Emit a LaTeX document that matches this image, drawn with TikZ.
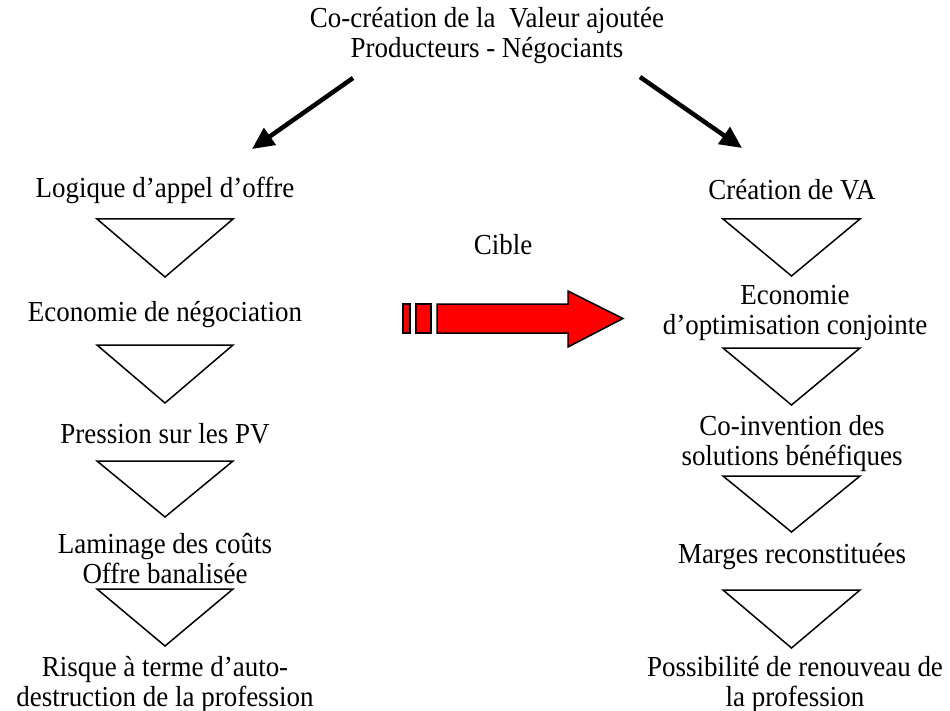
\documentclass[tikz,border=0pt]{standalone}
\usepackage{fontspec}
\setmainfont[FakeStretch=0.93]{Liberation Serif}
\usetikzlibrary{arrows.meta}
\begin{document}
\begin{tikzpicture}[x=1pt,y=-1pt,
  lbl/.style={align=center,inner sep=0pt,font=\fontsize{29}{30}\selectfont},
  tri/.style={draw=black,line width=1.5pt,line join=miter},
  bigarrow/.style={line width=4.5pt,-{Triangle[length=22pt,width=20pt]}},
  redpart/.style={fill=red,draw=black,line width=1.5pt,line join=miter}]
\useasboundingbox (0,0) rectangle (950,711);
% title
\node[lbl] (title) at (487,36) {Co-création de la\ \ Valeur ajoutée\\Producteurs - Négociants};
% left column
\node[lbl] (logique) at (165,190) {Logique d’appel d’offre};
\node[lbl] (econ) at (165,315) {Economie de négociation};
\node[lbl] (pression) at (165,434) {Pression sur les PV};
\node[lbl] (laminage) at (165,559) {Laminage des coûts\\Offre banalisée};
\node[lbl] (risque) at (165,684) {Risque à terme d’auto-\\destruction de la profession};
% right column
\node[lbl] (creation) at (792,190) {Création de VA};
\node[lbl] (optim) at (795,313) {Economie\\d’optimisation conjointe};
\node[lbl] (coinv) at (792,444) {Co-invention des\\solutions bénéfiques};
\node[lbl] (marges) at (792,557) {Marges reconstituées};
\node[lbl] (possib) at (795,684) {Possibilité de renouveau de\\la profession};
% middle
\node[lbl] (cible) at (503,245) {Cible};
% black arrows
\coordinate (als) at (353,78);
\coordinate (ale) at (252,149);
\coordinate (ars) at (640,77);
\coordinate (are) at (742,148);
\draw[bigarrow] (als) -- (ale);
\draw[bigarrow] (ars) -- (are);
% left triangles
\draw[tri] (97,219) -- (233,219) -- (165,277) -- cycle;
\draw[tri] (97,345) -- (233,345) -- (165,403) -- cycle;
\draw[tri] (97,461) -- (233,461) -- (165,517) -- cycle;
\draw[tri] (97,589) -- (233,589) -- (165,646) -- cycle;
% right triangles
\draw[tri] (723,219) -- (860,219) -- (791.5,276) -- cycle;
\draw[tri] (723,348) -- (860,348) -- (791.5,405) -- cycle;
\draw[tri] (723,476) -- (860,476) -- (791.5,532) -- cycle;
\draw[tri] (723,590) -- (860,590) -- (791.5,648) -- cycle;
% red arrow
\draw[redpart] (403,304) rectangle (410,333);
\draw[redpart] (416,304) rectangle (431,333);
\draw[redpart] (437,304) -- (568,304) -- (568,291) -- (623,318.5) -- (568,347) -- (568,333) -- (437,333) -- cycle;
\end{tikzpicture}
\end{document}
